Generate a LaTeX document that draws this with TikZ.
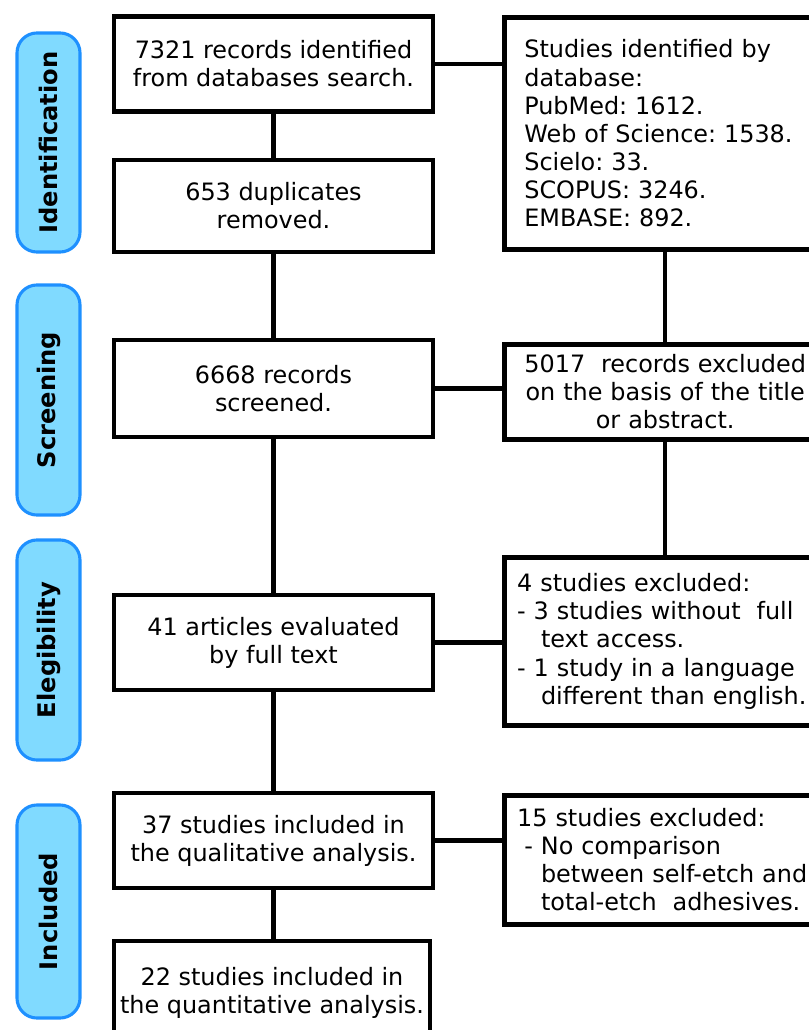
\documentclass[tikz,border=0pt]{standalone}
\usepackage{fontspec}
\setmainfont{DejaVu Sans}
\usepackage{xcolor}
\usepackage{tikz}
\definecolor{pillfill}{RGB}{128,218,255}
\definecolor{pilledge}{RGB}{30,144,255}
\frenchspacing

\begin{document}
\begin{tikzpicture}[x=0.025cm,y=-0.025cm,line width=3.3pt,
  every node/.style={font=\fontsize{17}{20}\selectfont},
  box/.style={draw,line width=3.3pt,minimum width=7.975cm,
    minimum height=2.375cm,align=center,inner sep=0pt},
  sidebox/.style={draw,line width=3.3pt,anchor=north west,
    text width=7.4cm,inner xsep=0.32cm,align=left},
  phase/.style={draw=pilledge,fill=pillfill,line width=2.2pt,rotate=90,
    rounded corners=0.5cm,minimum height=1.575cm,
    font=\fontsize{17.2}{20}\selectfont\bfseries}]
  \useasboundingbox (0,0) rectangle (808,1030);
  % phases
  \node[phase,minimum width=5.475cm] (pid) at (48.5,142.5) {Identification};
  \node[phase,minimum width=5.75cm] (psc) at (48.5,400) {Screening};
  \node[phase,minimum width=5.5cm] (pel) at (48.5,650) {Elegibility};
  \node[phase,minimum width=5.325cm] (pin) at (48.5,911.5) {Included};
  % main column
  \node[box] (found) at (273.5,64) {7321 records identified\\from databases search.};
  \node[box,minimum height=2.3cm] (dupl) at (273.5,206) {653 duplicates\\removed.};
  \node[box,minimum height=2.425cm] (screen) at (273.5,388.5) {6668 records\\screened.};
  \node[box] (full) at (273.5,642.5) {41 articles evaluated\\by full text};
  \node[box] (qual) at (273.5,840.5) {37 studies included in\\the qualitative analysis.};
  \node[box,minimum width=7.9cm,minimum height=2.6cm] (quant) at (272,993) {22 studies included in\\the quantitative analysis.};
  % side column
  \node[sidebox,minimum height=5.8cm,inner xsep=0.5cm,text width=7.04cm] (bases) at (502,15)
    {Studies identified by\\database:\\PubMed: 1612.\\Web of Science: 1538.\\Scielo: 33.\\SCOPUS: 3246.\\EMBASE: 892.};
  \node[sidebox,minimum height=2.375cm,align=center] (title) at (502,342)
    {5017\ \ records excluded\\on the basis of the title\\or abstract.};
  \node[sidebox,minimum height=4.2cm] (nofull) at (502,555)
    {4 studies excluded:\\- 3 studies without\ \ full\\\hspace*{1.0em}text access.\\- 1 study in a language\\\hspace*{1.0em}different than english.};
  \node[sidebox,minimum height=3.225cm] (nocomp) at (502,793)
    {15 studies excluded:\\\hspace*{0.3em}- No comparison\\\hspace*{1.0em}between self-etch and\\\hspace*{1.0em}total-etch\ \ adhesives.};
  % connectors
  \foreach \a/\b in {found/dupl,dupl/screen,screen/full,full/qual,qual/quant,bases/title,title/nofull}
    \draw (\a.south) -- (\a.south |- \b.north);
  \foreach \a/\b in {found/bases,screen/title,full/nofull,qual/nocomp}
    \draw (\a.east) -- (\a.east -| \b.west);
\end{tikzpicture}
\end{document}
